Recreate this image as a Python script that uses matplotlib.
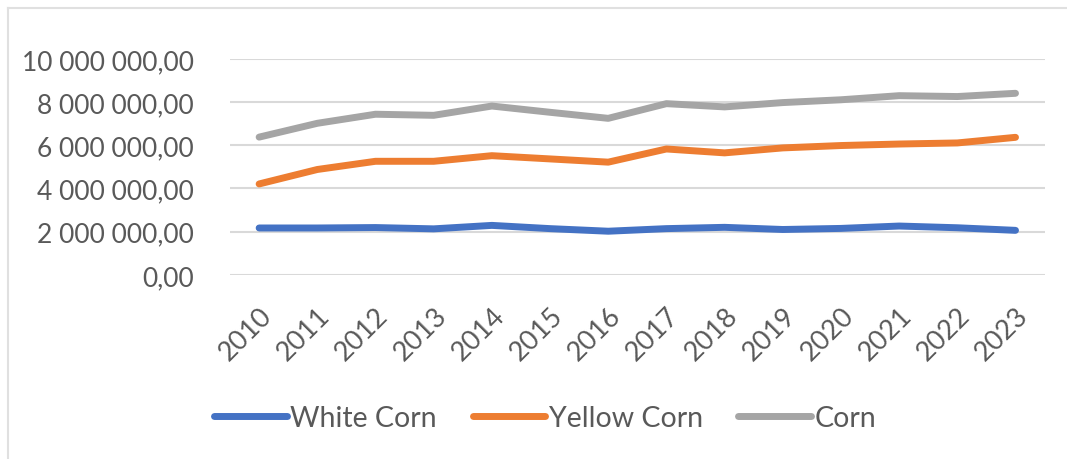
import matplotlib.pyplot as plt
from matplotlib.ticker import FuncFormatter
from matplotlib.lines import Line2D

# data
years = ['2010', '2011', '2012', '2013', '2014', '2015', '2016',
         '2017', '2018', '2019', '2020', '2021', '2022', '2023']
white_corn = [2170000, 2170000, 2190000, 2130000, 2290000, 2140000, 2020000,
              2140000, 2200000, 2100000, 2150000, 2260000, 2180000, 2060000]
yellow_corn = [4210000, 4880000, 5260000, 5260000, 5520000, 5370000, 5220000,
               5830000, 5650000, 5880000, 5990000, 6060000, 6110000, 6370000]
corn = [6380000, 7020000, 7440000, 7390000, 7820000, 7530000, 7250000,
        7930000, 7780000, 7980000, 8110000, 8300000, 8260000, 8410000]
y_ticks = [0, 2000000, 4000000, 6000000, 8000000, 10000000]

txt = '#595959'
plt.rcParams['font.family'] = ['Lato', 'DejaVu Sans']

fig = plt.figure(figsize=(10.67, 4.6), dpi=100)
ax = fig.add_axes([0.2156, 0.4004, 0.979 - 0.2156, 0.8696 - 0.4004])

x = list(range(len(years)))
ax.plot(x, white_corn, color='#4472C4', lw=5, solid_capstyle='round', solid_joinstyle='round', label='White Corn')
ax.plot(x, yellow_corn, color='#ED7D31', lw=5, solid_capstyle='round', solid_joinstyle='round', label='Yellow Corn')
ax.plot(x, corn, color='#A5A5A5', lw=5, solid_capstyle='round', solid_joinstyle='round', label='Corn')

ax.set_xlim(-0.5, len(years) - 0.5)
ax.set_ylim(0, 10000000)
ax.set_yticks(y_ticks)
ax.yaxis.set_major_formatter(FuncFormatter(
    lambda v, p: f'{v:,.2f}'.replace(',', ' ').replace('.', ',')))
ax.set_xticks(x)
ax.set_xticklabels(years, rotation=45, ha='right', va='top', rotation_mode='anchor')

ax.grid(axis='y', color='#D9D9D9', lw=1.5)
ax.set_axisbelow(True)
for s in ax.spines.values():
    s.set_visible(False)
ax.tick_params(axis='both', length=0, colors=txt, labelsize=19)
ax.tick_params(axis='x', labelsize=19.5, pad=20)
ax.tick_params(axis='y', pad=26)

fig.legend(loc='center', bbox_to_anchor=(0.511, 0.089), ncol=3, frameon=False,
           fontsize=20.5, labelcolor=txt, handlelength=2.55, handletextpad=0.12,
           columnspacing=1.25)

# thin chart-area border (top and left edges visible)
fig.add_artist(Line2D([8 / 1067, 1], [1 - 9 / 460, 1 - 9 / 460], color='#E0E0E0', lw=1.5))
fig.add_artist(Line2D([8 / 1067, 8 / 1067], [0, 1 - 9 / 460], color='#E0E0E0', lw=1.5))

fig.savefig('out.png', dpi=100)
